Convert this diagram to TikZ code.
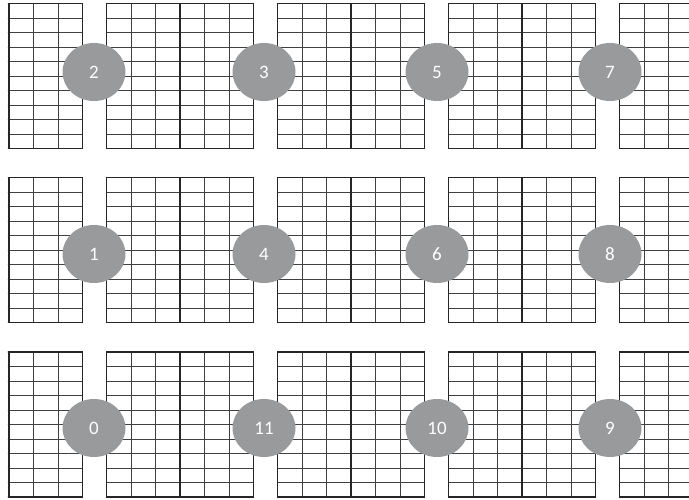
\documentclass[tikz,border=0pt]{standalone}
\usepackage{fontspec}
\setsansfont{Carlito}
\usetikzlibrary{shapes.geometric}
\definecolor{badgegray}{RGB}{152,154,156}

\begin{document}
\begin{tikzpicture}[
		x=1pt,
		y=-1pt,
		font=\sffamily,
		cell/.style={line width=0.75pt, gray!50!black},
		frame/.style={line width=1.2pt, black!85},
		badge/.style={ellipse, fill=badgegray, minimum width=63pt, minimum height=58pt,
			inner sep=0pt, text=white, font=\sffamily\fontsize{19}{22}\selectfont}
		]
		
		\useasboundingbox (0,0) rectangle (689,500);
		\clip (7.8,0) rectangle (689,500);
		
		% three rows of plates, each plate 6 x 10 cells
		\foreach \rowy in {3.5,177.5,352}{
			\foreach \colx in {-64.5,106.5,277.5,448.5,619.5}{
				\foreach \i in {1,...,9}
				\draw[cell] (\colx,\rowy+\i*14.5) -- ++(147,0);
				\foreach \k in {1,2,4,5}
				\draw[cell] (\colx+\k*24.5,\rowy) -- ++(0,145);
				\draw[frame] (\colx,\rowy) rectangle ++(147,145);
				\draw[frame] (\colx+73.5,\rowy) -- ++(0,145);
			}
		}
		
		% numbered positions, top row
		\node[badge] (n2) at (94,72) {2};
		\node[badge] (n3) at (264,72) {3};
		\node[badge] (n5) at (437,72) {5};
		\node[badge] (n7) at (610,72) {7};
		
		% middle row
		\node[badge] (n1) at (94,254) {1};
		\node[badge] (n4) at (264,254) {4};
		\node[badge] (n6) at (437,254) {6};
		\node[badge] (n8) at (610,254) {8};
		
		% bottom row
		\node[badge] (n0) at (94,428) {0};
		\node[badge] (n11) at (264,428) {11};
		\node[badge] (n10) at (437,428) {10};
		\node[badge] (n9) at (610,428) {9};
		
	\end{tikzpicture}
\end{document}
